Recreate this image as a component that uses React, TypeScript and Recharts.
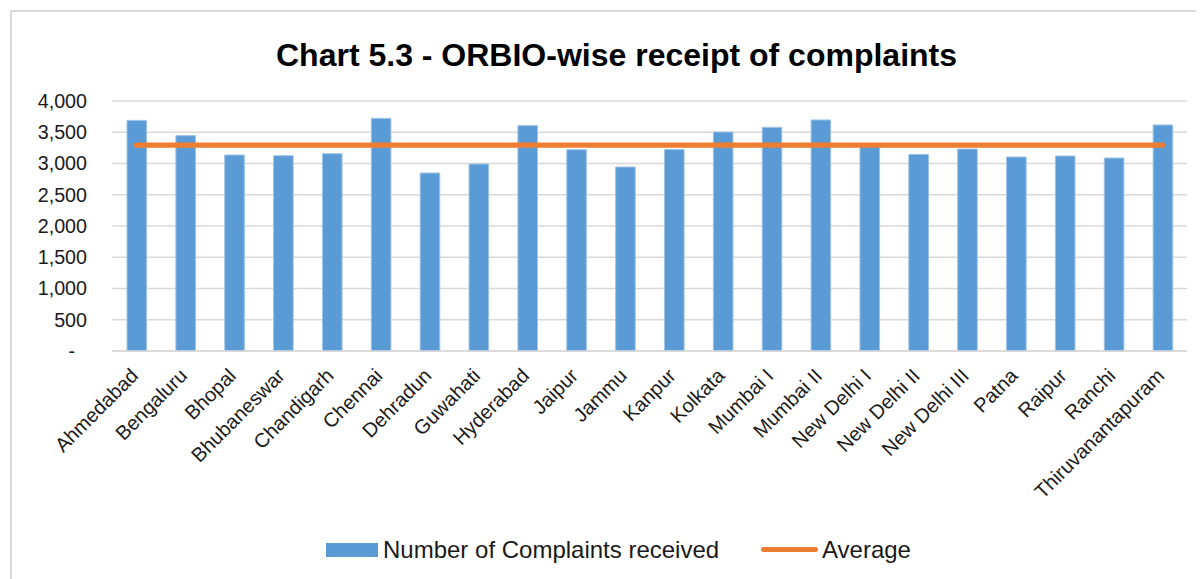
import { ComposedChart, Bar, Line, XAxis, YAxis, CartesianGrid, Legend } from 'recharts'

// ORBIO offices, in chart order
const offices = [
  'Ahmedabad', 'Bengaluru', 'Bhopal', 'Bhubaneswar', 'Chandigarh', 'Chennai',
  'Dehradun', 'Guwahati', 'Hyderabad', 'Jaipur', 'Jammu', 'Kanpur', 'Kolkata',
  'Mumbai I', 'Mumbai II', 'New Delhi I', 'New Delhi II', 'New Delhi III',
  'Patna', 'Raipur', 'Ranchi', 'Thiruvanantapuram',
]

// Number of complaints received
const complaints = [
  3690, 3446, 3136, 3125, 3157, 3723, 2848, 2992, 3606, 3221, 2944,
  3226, 3504, 3579, 3697, 3300, 3146, 3232, 3104, 3120, 3088, 3617,
]

// Average across all offices (flat orange line)
const averageValue = 3295

const yTicks = [0, 500, 1000, 1500, 2000, 2500, 3000, 3500, 4000]

const chartData = offices.map((name, i) => ({
  name,
  complaints: complaints[i],
  average: averageValue,
}))

const FONT = '"Liberation Sans", Arial, sans-serif'
const BAR_COLOR = '#5b9bd5'
const LINE_COLOR = '#ed7d31'
const GRID_COLOR = '#d9d9d9'

const formatTick = (v: number) => (v === 0 ? '-' : v.toLocaleString('en-US'))

const YTick = ({ x, y, payload }: any) => {
  const isZero = payload.value === 0
  return (
    <text
      x={x - (isZero ? 12 : 0)}
      y={y}
      dy="0.355em"
      textAnchor="end"
      fontFamily={FONT}
      fontSize={19.7}
      fill="#1a1a1a"
    >
      {formatTick(payload.value)}
    </text>
  )
}

const XTick = ({ x, y, payload }: any) => (
  <g transform={`translate(${x + 3},${y + 26})`}>
    <text
      x={0}
      y={0}
      textAnchor="end"
      transform="rotate(-45)"
      fontFamily={FONT}
      fontSize={20}
      fill="#1a1a1a"
    >
      {payload.value}
    </text>
  </g>
)

const LegendContent = () => (
  <div style={{ position: 'relative', width: 1196, height: 40, fontFamily: FONT, fontSize: 24, color: '#1a1a1a' }}>
    <div style={{ position: 'absolute', left: 318, top: 13, width: 52, height: 14, background: BAR_COLOR }} />
    <span style={{ position: 'absolute', left: 375, top: 6, lineHeight: '28px', whiteSpace: 'nowrap' }}>
      Number of Complaints received
    </span>
    <div style={{ position: 'absolute', left: 753, top: 17, width: 57, height: 5, borderRadius: 3, background: LINE_COLOR }} />
    <span style={{ position: 'absolute', left: 814, top: 6, lineHeight: '28px', whiteSpace: 'nowrap' }}>
      Average
    </span>
  </div>
)

export default function App() {
  return (
    <div style={{ position: 'relative', width: 1196, height: 571, overflow: 'hidden', background: '#fff' }}>
      {/* chart frame, right and bottom edges fall outside the picture */}
      <div
        style={{
          position: 'absolute',
          left: 2,
          top: 2,
          width: 1300,
          height: 700,
          borderLeft: `2px solid ${GRID_COLOR}`,
          borderTop: `2px solid ${GRID_COLOR}`,
        }}
      />
      <div
        style={{
          position: 'absolute',
          left: 0,
          top: 32.4,
          width: 1217,
          textAlign: 'center',
          fontFamily: FONT,
          fontWeight: 'bold',
          fontSize: 32,
          lineHeight: '31px',
          color: '#000',
          whiteSpace: 'nowrap',
        }}
      >
        Chart 5.3 - ORBIO-wise receipt of complaints
      </div>
      <ComposedChart
        width={1196}
        height={571}
        data={chartData}
        margin={{ top: 93, right: 17, left: 0, bottom: 9 }}
        barSize={19.6}
        style={{ position: 'absolute', left: 0, top: 0 }}
      >
        <CartesianGrid vertical={false} stroke={GRID_COLOR} strokeWidth={1.5} />
        <XAxis
          dataKey="name"
          interval={0}
          height={179}
          tickLine={false}
          tickSize={0}
          tickMargin={0}
          axisLine={{ stroke: GRID_COLOR, strokeWidth: 1.5 }}
          tick={<XTick />}
        />
        <YAxis
          domain={[0, 4000]}
          ticks={yTicks}
          width={104}
          axisLine={false}
          tickLine={false}
          tickSize={0}
          tickMargin={25}
          tick={<YTick />}
        />
        <Legend verticalAlign="bottom" height={40} wrapperStyle={{ left: 0, width: 1196 }} content={<LegendContent />} />
        <Bar
          dataKey="complaints"
          name="Number of Complaints received"
          fill={BAR_COLOR}
          stroke="#9dc3e6"
          strokeWidth={1}
          isAnimationActive={false}
        />
        <Line
          dataKey="average"
          name="Average"
          stroke={LINE_COLOR}
          strokeWidth={5.3}
          strokeLinecap="round"
          dot={false}
          activeDot={false}
          isAnimationActive={false}
        />
      </ComposedChart>
    </div>
  )
}
